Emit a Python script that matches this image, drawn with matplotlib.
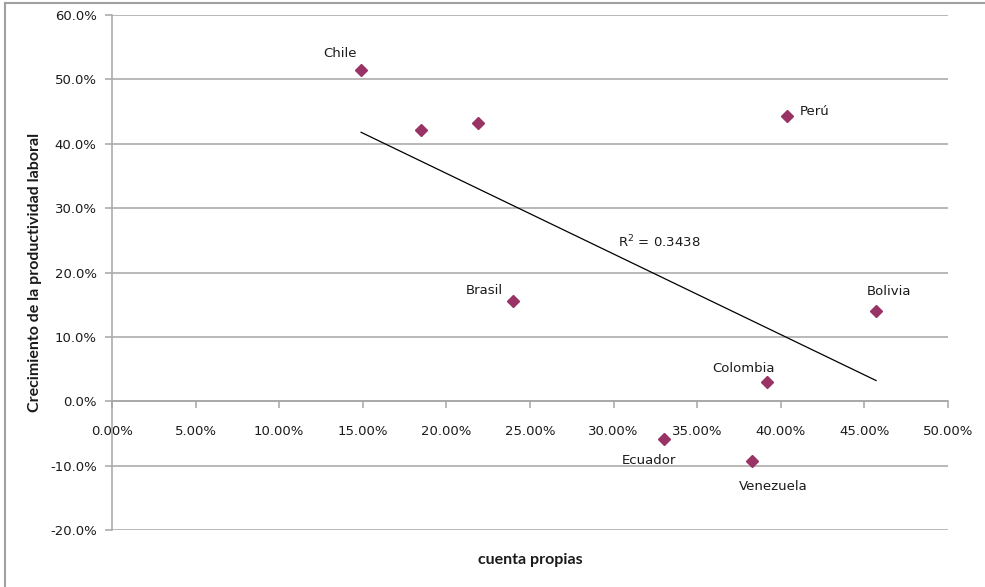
import matplotlib
matplotlib.use("Agg")
import matplotlib.pyplot as plt
from matplotlib.ticker import FuncFormatter, MultipleLocator
from matplotlib.lines import Line2D
import numpy as np

# share of own-account workers vs. labour productivity growth
countries = ["Chile", "", "", "Perú", "Brasil", "Bolivia", "Colombia", "Ecuador", "Venezuela"]
cuenta_propia = [0.149, 0.185, 0.219, 0.404, 0.240, 0.457, 0.392, 0.330, 0.383]
crec_productividad = [0.514, 0.422, 0.432, 0.443, 0.155, 0.140, 0.030, -0.058, -0.093]
r2_label = "R$^2$ = 0.3438"

# label offsets (points) and alignment per country
label_pos = {
    "Chile": ((-15, 12), "center"),
    "Perú": ((9, 3), "left"),
    "Brasil": ((-21, 8), "center"),
    "Bolivia": ((9, 14), "center"),
    "Colombia": ((-17, 10), "center"),
    "Ecuador": ((-11, -16), "center"),
    "Venezuela": ((15, -18), "center"),
}

GRID = "#a6a6a6"
MARK = "#993366"
TXT = "#1a1a1a"

fig = plt.figure(figsize=(9.85, 5.87), dpi=100)
# chart frame: only the top and left edges fall inside the image
fig.lines.append(Line2D([0.005, 1.0], [0.995, 0.995], transform=fig.transFigure, color="#a0a0a0", lw=1.5))
fig.lines.append(Line2D([0.005, 0.005], [0.0, 0.995], transform=fig.transFigure, color="#a0a0a0", lw=1.5))

ax = fig.add_axes([0.1137, 0.0971, 0.8487, 0.8773])

ax.set_xlim(0, 0.5)
ax.set_ylim(-0.2, 0.6)
ax.xaxis.set_major_locator(MultipleLocator(0.05))
ax.yaxis.set_major_locator(MultipleLocator(0.1))
ax.xaxis.set_major_formatter(FuncFormatter(lambda v, _: f"{v*100:.2f}%"))
ax.yaxis.set_major_formatter(FuncFormatter(lambda v, _: f"{v*100:.1f}%"))

ax.grid(axis="y", color=GRID, lw=1.1)
ax.set_axisbelow(True)
for side in ("top", "right"):
    ax.spines[side].set_visible(False)
ax.spines["bottom"].set_position(("data", 0))
ax.spines["bottom"].set_color(GRID)
ax.spines["bottom"].set_linewidth(1.1)
ax.spines["left"].set_color(GRID)
ax.spines["left"].set_linewidth(1.1)
ax.tick_params(axis="both", colors=GRID, width=1.1, length=5, labelcolor=TXT, labelsize=9.5)
ax.tick_params(axis="x", pad=12)
ax.tick_params(axis="y", pad=6)

# linear trend over the data range
slope, intercept = np.polyfit(cuenta_propia, crec_productividad, 1)
xs = np.array([min(cuenta_propia), max(cuenta_propia)])
ax.plot(xs, slope * xs + intercept, color="black", lw=0.9, zorder=2)
ax.text(0.3025, 0.248, r2_label, fontsize=9.5, color=TXT, ha="left", va="center")

ax.plot(cuenta_propia, crec_productividad, "D", color=MARK, ms=6.5, zorder=3, clip_on=False)

for name, x, y in zip(countries, cuenta_propia, crec_productividad):
    if not name:
        continue
    (dx, dy), ha = label_pos[name]
    ax.annotate(name, (x, y), xytext=(dx, dy), textcoords="offset points",
                ha=ha, va="center", fontsize=9.5, color=TXT)

fig.text(0.538, 0.046, "cuenta propias", ha="center", va="center",
         fontsize=11.5, fontweight="bold", family="Lato", color=TXT)
fig.text(0.036, 0.536, "Crecimiento de la productividad laboral", ha="center", va="center",
         rotation=90, fontsize=11.5, fontweight="bold", family="Lato", color=TXT)

fig.savefig("out.png", dpi=100)
